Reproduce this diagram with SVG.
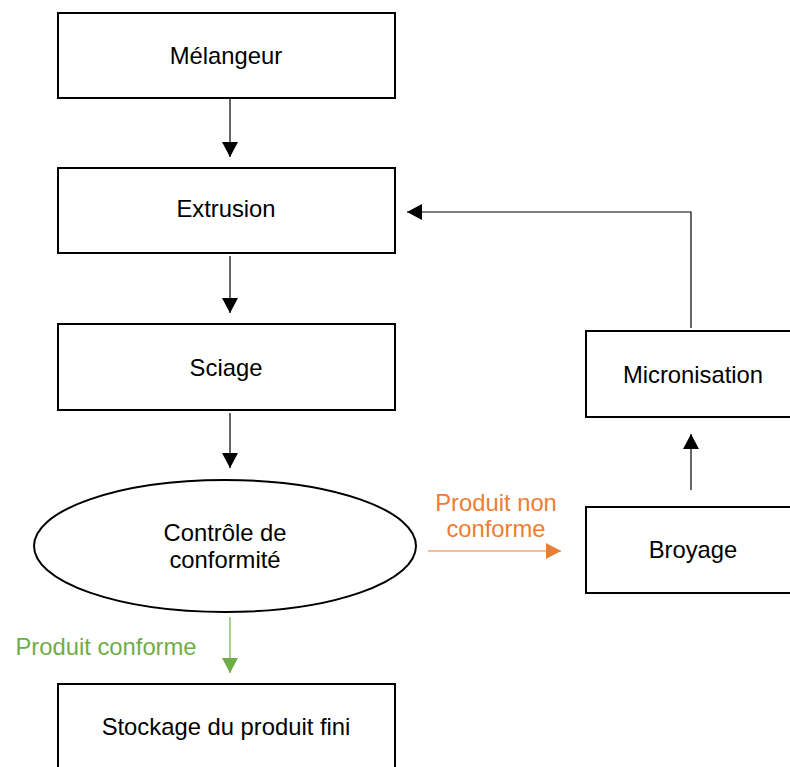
<svg xmlns="http://www.w3.org/2000/svg" width="790" height="767" viewBox="0 0 790 767">
<style>
.box{fill:#fff;stroke:#000;stroke-width:2}
.t{font-family:"Liberation Sans",Arial,sans-serif;font-size:23.8px;fill:#000;text-anchor:middle}
.c{fill:none;stroke:#000;stroke-width:1.2}
</style>
<defs>
<marker id="ab" markerUnits="userSpaceOnUse" markerWidth="16" markerHeight="16" viewBox="0 0 16 16" refX="15" refY="8" orient="auto"><path d="M0,0 L15,8 L0,16 Z" fill="#000"/></marker>
<marker id="ao" markerUnits="userSpaceOnUse" markerWidth="16" markerHeight="16" viewBox="0 0 16 16" refX="15" refY="8" orient="auto"><path d="M0,0 L15,8 L0,16 Z" fill="#ED7D31"/></marker>
<marker id="ag" markerUnits="userSpaceOnUse" markerWidth="16" markerHeight="16" viewBox="0 0 16 16" refX="15" refY="8" orient="auto"><path d="M0,0 L15,8 L0,16 Z" fill="#70AD47"/></marker>
</defs>
<rect width="790" height="767" fill="#fff"/>
<g id="connectors">
<line class="c" x1="230" y1="99" x2="230" y2="157" marker-end="url(#ab)"/>
<line class="c" x1="230" y1="256" x2="230" y2="313" marker-end="url(#ab)"/>
<line class="c" x1="230" y1="413" x2="230" y2="468" marker-end="url(#ab)"/>
<line class="c" x1="230" y1="617" x2="230" y2="673" style="stroke:#70AD47" marker-end="url(#ag)"/>
<line class="c" x1="428" y1="551" x2="561" y2="551" style="stroke:#ED7D31" marker-end="url(#ao)"/>
<line class="c" x1="691" y1="490" x2="691" y2="434" marker-end="url(#ab)"/>
<polyline class="c" points="691,328 691,212 407,212" marker-end="url(#ab)"/>
<text class="t" x="496" y="511" style="fill:#ED7D31">Produit non</text>
<text class="t" x="496" y="537" style="fill:#ED7D31">conforme</text>
<text class="t" x="106" y="655" style="fill:#70AD47">Produit conforme</text>
</g>
<g id="melangeur"><rect class="box" x="58" y="13" width="337" height="85"/><text class="t" x="226" y="64">Mélangeur</text></g>
<g id="extrusion"><rect class="box" x="58" y="168" width="337" height="85"/><text class="t" x="226" y="217">Extrusion</text></g>
<g id="sciage"><rect class="box" x="58" y="324" width="337" height="86"/><text class="t" x="226" y="376">Sciage</text></g>
<g id="controle"><ellipse class="box" cx="225" cy="546" rx="191" ry="66"/><text class="t" x="225" y="541">Contrôle de</text><text class="t" x="225" y="568">conformité</text></g>
<g id="stockage"><rect class="box" x="58" y="684" width="337" height="95"/><text class="t" x="226" y="735">Stockage du produit fini</text></g>
<g id="micronisation"><rect class="box" x="586" y="331" width="210" height="86"/><text class="t" x="693" y="383">Micronisation</text></g>
<g id="broyage"><rect class="box" x="586" y="507" width="210" height="86"/><text class="t" x="693" y="558">Broyage</text></g>
</svg>
